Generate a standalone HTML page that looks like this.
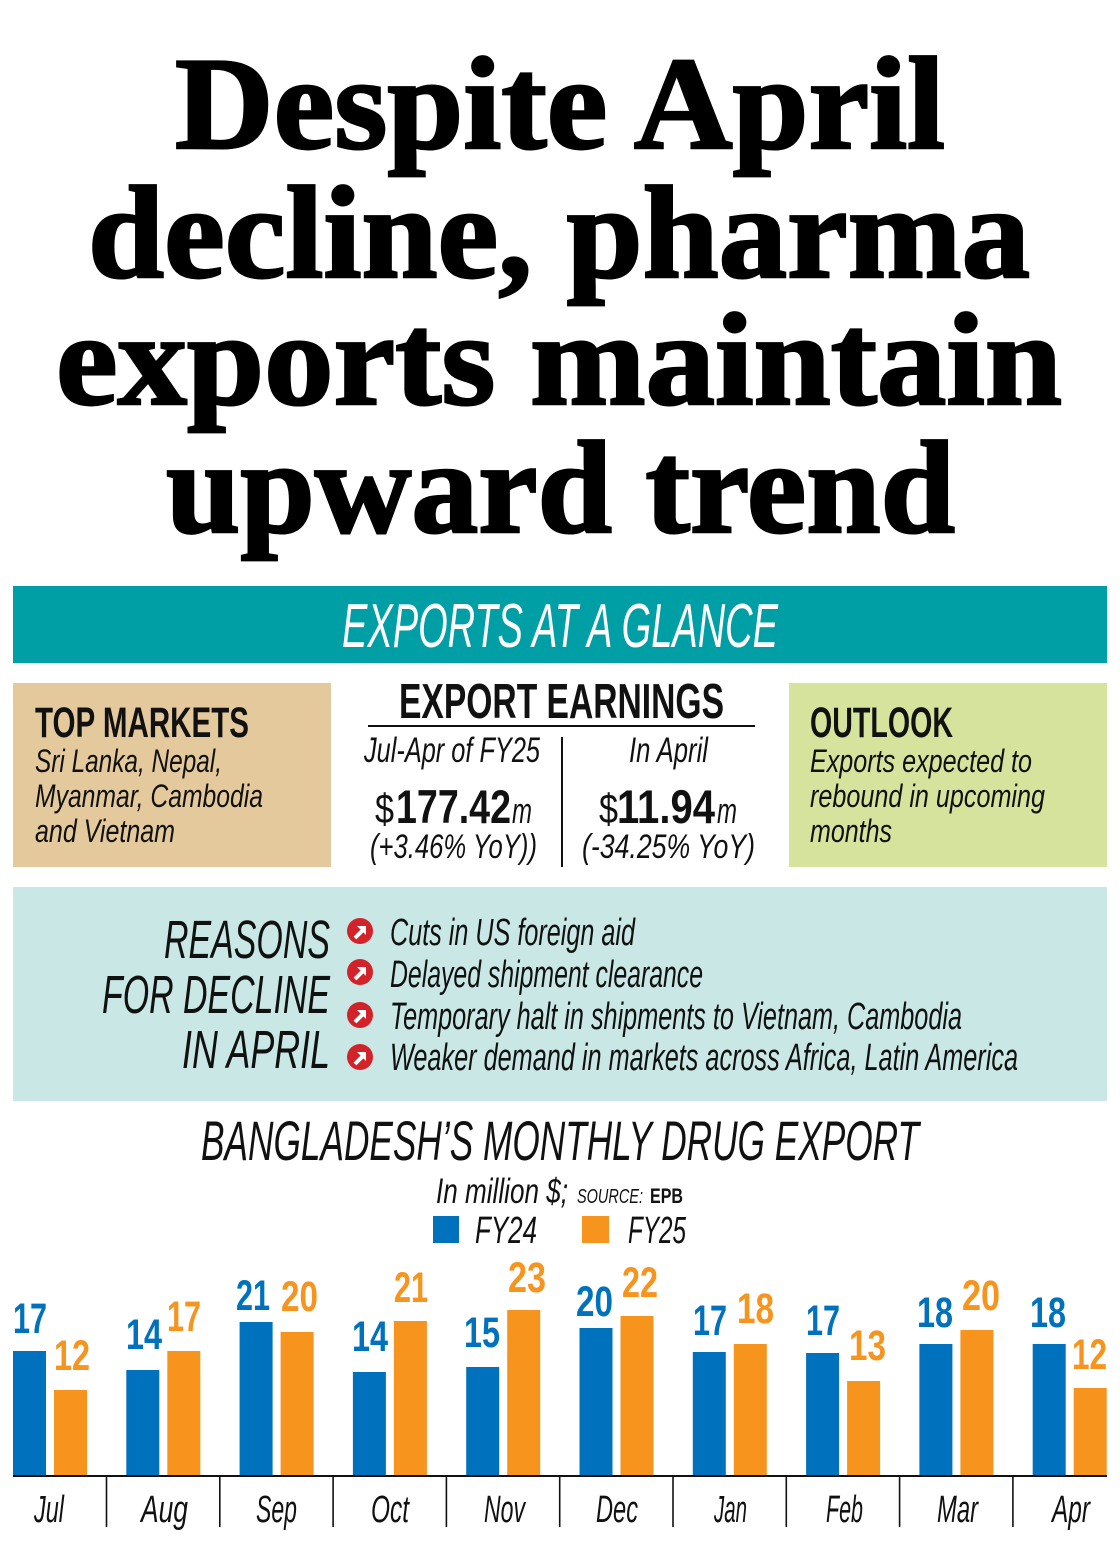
<!DOCTYPE html>
<html>
<head>
<meta charset="utf-8">
<style>
html,body{margin:0;padding:0;background:#fff;}
svg{display:block;}
.hl{font-family:"Liberation Serif",serif;font-weight:bold;font-size:132px;fill:#000;stroke:#000;stroke-width:2.5px;stroke-linejoin:miter;}
.it{font-family:"Liberation Sans",sans-serif;font-style:italic;fill:#111;}
.bd{font-family:"Liberation Sans",sans-serif;font-weight:bold;fill:#111;}
.rg{font-family:"Liberation Sans",sans-serif;fill:#111;}
.lb{font-family:"Liberation Sans",sans-serif;font-weight:bold;font-size:43px;}
.bl{fill:#0071bc;}
.or{fill:#f7941e;}
</style>
</head>
<body>
<svg width="1120" height="1548" viewBox="0 0 1120 1548" xmlns="http://www.w3.org/2000/svg">
<rect x="0" y="0" width="1120" height="1548" fill="#fff"/>

<!-- Headline -->
<text class="hl" x="175" y="148" textLength="770" lengthAdjust="spacingAndGlyphs">Despite April</text>
<text class="hl" x="88" y="277" textLength="942" lengthAdjust="spacingAndGlyphs">decline, pharma</text>
<text class="hl" x="56" y="404" textLength="1006" lengthAdjust="spacingAndGlyphs">exports maintain</text>
<text class="hl" x="166" y="532" textLength="789" lengthAdjust="spacingAndGlyphs">upward trend</text>

<!-- Banner -->
<rect x="13" y="586" width="1094" height="77" fill="#009fa6"/>
<text class="it" x="342" y="647" font-size="62" style="fill:#fff" textLength="436" lengthAdjust="spacingAndGlyphs">EXPORTS AT A GLANCE</text>

<!-- Top markets -->
<rect x="13" y="683" width="318" height="184" fill="#e4c99c"/>
<text class="bd" x="35" y="737" font-size="43" textLength="214" lengthAdjust="spacingAndGlyphs">TOP MARKETS</text>
<text class="it" x="35" y="772" font-size="32" textLength="187" lengthAdjust="spacingAndGlyphs">Sri Lanka, Nepal,</text>
<text class="it" x="35" y="807" font-size="32" textLength="228" lengthAdjust="spacingAndGlyphs">Myanmar, Cambodia</text>
<text class="it" x="35" y="842" font-size="32" textLength="140" lengthAdjust="spacingAndGlyphs">and Vietnam</text>

<!-- Export earnings -->
<text class="bd" x="399" y="718" font-size="49" textLength="325" lengthAdjust="spacingAndGlyphs">EXPORT EARNINGS</text>
<line x1="368" y1="726" x2="755" y2="726" stroke="#111" stroke-width="2"/>
<text class="it" x="364" y="762" font-size="35" textLength="176" lengthAdjust="spacingAndGlyphs">Jul-Apr of FY25</text>
<text class="it" x="629" y="762" font-size="35" textLength="79" lengthAdjust="spacingAndGlyphs">In April</text>
<line x1="562" y1="737" x2="562" y2="867" stroke="#111" stroke-width="2"/>

<text class="rg" x="375" y="823" font-size="42" textLength="19" lengthAdjust="spacingAndGlyphs">$</text>
<text class="bd" x="396" y="823" font-size="47" textLength="115" lengthAdjust="spacingAndGlyphs">177.42</text>
<text class="it" x="512" y="823" font-size="36" textLength="20" lengthAdjust="spacingAndGlyphs">m</text>
<text class="it" x="370" y="858" font-size="34" textLength="167" lengthAdjust="spacingAndGlyphs">(+3.46% YoY))</text>

<text class="rg" x="599" y="823" font-size="42" textLength="19" lengthAdjust="spacingAndGlyphs">$</text>
<text class="bd" x="617" y="823" font-size="47" textLength="98" lengthAdjust="spacingAndGlyphs">11.94</text>
<text class="it" x="717" y="823" font-size="36" textLength="20" lengthAdjust="spacingAndGlyphs">m</text>
<text class="it" x="582" y="858" font-size="34" textLength="173" lengthAdjust="spacingAndGlyphs">(-34.25% YoY)</text>

<!-- Outlook -->
<rect x="789" y="683" width="318" height="184" fill="#d5e39d"/>
<text class="bd" x="810" y="737" font-size="43" textLength="143" lengthAdjust="spacingAndGlyphs">OUTLOOK</text>
<text class="it" x="810" y="772" font-size="32" textLength="222" lengthAdjust="spacingAndGlyphs">Exports expected to</text>
<text class="it" x="810" y="807" font-size="32" textLength="235" lengthAdjust="spacingAndGlyphs">rebound in upcoming</text>
<text class="it" x="810" y="842" font-size="32" textLength="82" lengthAdjust="spacingAndGlyphs">months</text>

<!-- Reasons -->
<rect x="13" y="887" width="1094" height="214" fill="#c9e8e5"/>
<text class="it" x="164" y="958" font-size="54" textLength="166" lengthAdjust="spacingAndGlyphs">REASONS</text>
<text class="it" x="102" y="1013" font-size="54" textLength="228" lengthAdjust="spacingAndGlyphs">FOR DECLINE</text>
<text class="it" x="182" y="1068" font-size="54" textLength="148" lengthAdjust="spacingAndGlyphs">IN APRIL</text>

<g transform="translate(360,931)">
  <circle r="13" fill="#d2232a"/>
  <path d="M-5,7 L3,-1" stroke="#fff" stroke-width="4" fill="none"/>
  <polygon points="-3,-5 6,-5 6,4" fill="#fff"/>
</g>
<g transform="translate(360,972)">
  <circle r="13" fill="#d2232a"/>
  <path d="M-5,7 L3,-1" stroke="#fff" stroke-width="4" fill="none"/>
  <polygon points="-3,-5 6,-5 6,4" fill="#fff"/>
</g>
<g transform="translate(360,1015)">
  <circle r="13" fill="#d2232a"/>
  <path d="M-5,7 L3,-1" stroke="#fff" stroke-width="4" fill="none"/>
  <polygon points="-3,-5 6,-5 6,4" fill="#fff"/>
</g>
<g transform="translate(360,1057)">
  <circle r="13" fill="#d2232a"/>
  <path d="M-5,7 L3,-1" stroke="#fff" stroke-width="4" fill="none"/>
  <polygon points="-3,-5 6,-5 6,4" fill="#fff"/>
</g>

<text class="it" x="390" y="945" font-size="38" textLength="245" lengthAdjust="spacingAndGlyphs">Cuts in US foreign aid</text>
<text class="it" x="390" y="987" font-size="38" textLength="313" lengthAdjust="spacingAndGlyphs">Delayed shipment clearance</text>
<text class="it" x="390" y="1029" font-size="38" textLength="572" lengthAdjust="spacingAndGlyphs">Temporary halt in shipments to Vietnam, Cambodia</text>
<text class="it" x="390" y="1070" font-size="38" textLength="628" lengthAdjust="spacingAndGlyphs">Weaker demand in markets across Africa, Latin America</text>

<!-- Chart title -->
<text class="it" x="201" y="1160" font-size="56" textLength="718" lengthAdjust="spacingAndGlyphs">BANGLADESH’S MONTHLY DRUG EXPORT</text>
<text class="it" x="436" y="1203" font-size="35" textLength="132" lengthAdjust="spacingAndGlyphs">In million $;</text>
<text class="it" x="577" y="1203" font-size="20" textLength="66" lengthAdjust="spacingAndGlyphs">SOURCE:</text>
<text class="bd" x="650" y="1203" font-size="21" textLength="33" lengthAdjust="spacingAndGlyphs">EPB</text>

<rect x="433" y="1216" width="26" height="27" fill="#0071bc"/>
<text class="it" x="475" y="1243" font-size="38" textLength="62" lengthAdjust="spacingAndGlyphs">FY24</text>
<rect x="582" y="1216" width="27" height="27" fill="#f7941e"/>
<text class="it" x="628" y="1243" font-size="38" textLength="58" lengthAdjust="spacingAndGlyphs">FY25</text>

<!-- Bars -->
<g>
<rect class="bl" x="13" y="1351" width="33" height="125"/>
<rect class="or" x="54" y="1390" width="33" height="86"/>
<rect class="bl" x="126.3" y="1370" width="33" height="106"/>
<rect class="or" x="167.3" y="1351" width="33" height="125"/>
<rect class="bl" x="239.6" y="1322" width="33" height="154"/>
<rect class="or" x="280.6" y="1332" width="33" height="144"/>
<rect class="bl" x="352.9" y="1372" width="33" height="104"/>
<rect class="or" x="393.9" y="1321" width="33" height="155"/>
<rect class="bl" x="466.2" y="1367" width="33" height="109"/>
<rect class="or" x="507.2" y="1310" width="33" height="166"/>
<rect class="bl" x="579.5" y="1328" width="33" height="148"/>
<rect class="or" x="620.5" y="1316" width="33" height="160"/>
<rect class="bl" x="692.8" y="1352" width="33" height="124"/>
<rect class="or" x="733.8" y="1344" width="33" height="132"/>
<rect class="bl" x="806.1" y="1353" width="33" height="123"/>
<rect class="or" x="847.1" y="1381" width="33" height="95"/>
<rect class="bl" x="919.4" y="1344" width="33" height="132"/>
<rect class="or" x="960.4" y="1330" width="33" height="146"/>
<rect class="bl" x="1032.7" y="1344" width="33" height="132"/>
<rect class="or" x="1073.7" y="1388" width="33" height="88"/>
</g>

<!-- Value labels -->
<g>
<text class="lb bl" x="13" y="1333" textLength="34" lengthAdjust="spacingAndGlyphs">17</text>
<text class="lb or" x="54" y="1370" textLength="36" lengthAdjust="spacingAndGlyphs">12</text>
<text class="lb bl" x="126" y="1349" textLength="36" lengthAdjust="spacingAndGlyphs">14</text>
<text class="lb or" x="167" y="1331" textLength="34" lengthAdjust="spacingAndGlyphs">17</text>
<text class="lb bl" x="236" y="1310" textLength="34" lengthAdjust="spacingAndGlyphs">21</text>
<text class="lb or" x="281" y="1311" textLength="37" lengthAdjust="spacingAndGlyphs">20</text>
<text class="lb bl" x="352" y="1351" textLength="36" lengthAdjust="spacingAndGlyphs">14</text>
<text class="lb or" x="394" y="1302" textLength="34" lengthAdjust="spacingAndGlyphs">21</text>
<text class="lb bl" x="464" y="1347" textLength="36" lengthAdjust="spacingAndGlyphs">15</text>
<text class="lb or" x="508" y="1292" textLength="38" lengthAdjust="spacingAndGlyphs">23</text>
<text class="lb bl" x="576" y="1316" textLength="37" lengthAdjust="spacingAndGlyphs">20</text>
<text class="lb or" x="622" y="1297" textLength="36" lengthAdjust="spacingAndGlyphs">22</text>
<text class="lb bl" x="693" y="1335" textLength="34" lengthAdjust="spacingAndGlyphs">17</text>
<text class="lb or" x="737" y="1323" textLength="37" lengthAdjust="spacingAndGlyphs">18</text>
<text class="lb bl" x="806" y="1335" textLength="34" lengthAdjust="spacingAndGlyphs">17</text>
<text class="lb or" x="849" y="1360" textLength="37" lengthAdjust="spacingAndGlyphs">13</text>
<text class="lb bl" x="917" y="1327" textLength="36" lengthAdjust="spacingAndGlyphs">18</text>
<text class="lb or" x="962" y="1310" textLength="38" lengthAdjust="spacingAndGlyphs">20</text>
<text class="lb bl" x="1030" y="1327" textLength="36" lengthAdjust="spacingAndGlyphs">18</text>
<text class="lb or" x="1072" y="1369" textLength="35" lengthAdjust="spacingAndGlyphs">12</text>
</g>

<!-- Axis -->
<line x1="13" y1="1476" x2="1107" y2="1476" stroke="#111" stroke-width="2"/>
<g stroke="#111" stroke-width="1.6">
<line x1="106.5" y1="1476" x2="106.5" y2="1527"/>
<line x1="219.8" y1="1476" x2="219.8" y2="1527"/>
<line x1="333.1" y1="1476" x2="333.1" y2="1527"/>
<line x1="446.4" y1="1476" x2="446.4" y2="1527"/>
<line x1="559.7" y1="1476" x2="559.7" y2="1527"/>
<line x1="673" y1="1476" x2="673" y2="1527"/>
<line x1="786.3" y1="1476" x2="786.3" y2="1527"/>
<line x1="899.6" y1="1476" x2="899.6" y2="1527"/>
<line x1="1012.9" y1="1476" x2="1012.9" y2="1527"/>
</g>

<!-- Month labels -->
<g>
<text class="it" x="34" y="1522" font-size="38" textLength="30" lengthAdjust="spacingAndGlyphs">Jul</text>
<text class="it" x="141" y="1522" font-size="38" textLength="47" lengthAdjust="spacingAndGlyphs">Aug</text>
<text class="it" x="256" y="1522" font-size="38" textLength="41" lengthAdjust="spacingAndGlyphs">Sep</text>
<text class="it" x="371" y="1522" font-size="38" textLength="38" lengthAdjust="spacingAndGlyphs">Oct</text>
<text class="it" x="484" y="1522" font-size="38" textLength="41" lengthAdjust="spacingAndGlyphs">Nov</text>
<text class="it" x="596" y="1522" font-size="38" textLength="42" lengthAdjust="spacingAndGlyphs">Dec</text>
<text class="it" x="714" y="1522" font-size="38" textLength="33" lengthAdjust="spacingAndGlyphs">Jan</text>
<text class="it" x="826" y="1522" font-size="38" textLength="37" lengthAdjust="spacingAndGlyphs">Feb</text>
<text class="it" x="937" y="1522" font-size="38" textLength="41" lengthAdjust="spacingAndGlyphs">Mar</text>
<text class="it" x="1052" y="1522" font-size="38" textLength="38" lengthAdjust="spacingAndGlyphs">Apr</text>
</g>
</svg>
</body>
</html>
